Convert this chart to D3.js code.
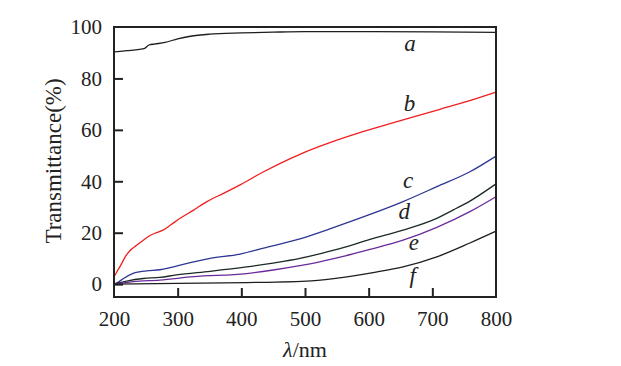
<!DOCTYPE html>
<html lang="en">
<head>
    <meta charset="UTF-8">
    <title>Transmittance</title>
    <script src="https://d3js.org/d3.v7.min.js"></script>
    <style>
        body { margin: 0; background: #fff; }
        text { font-family: "Liberation Serif", "DejaVu Serif", serif; fill: #222; }
    </style>
</head>
<body>
    <script>

        // wavelength / transmittance pairs, one array per sample
        var curve_a = [[200,90.3],[220,90.8],[240,91.3],[248,91.7],[255,93.0],[265,93.4],[280,94.0],[300,95.4],
                       [320,96.4],[350,97.2],[400,97.7],[450,98.0],[500,98.2],[600,98.2],[700,98.1],[800,97.9]];
        var curve_b = [[200,2.8],[205,5.0],[212,8.0],[218,10.8],[225,13.0],[235,15.0],[246,17.1],[257,19.0],
                       [267,20.0],[277,21.0],[290,23.2],[304,25.6],[325,28.8],[346,32.1],[372,35.3],[398,38.6],
                       [435,43.7],[492,50.5],[539,55.0],[586,58.9],[639,62.8],[712,68.0],[760,71.5],[800,74.7]];
        var curve_c = [[200,0],[208,1.0],[215,2.2],[230,4.2],[251,5.2],[272,5.6],[285,6.2],[304,7.4],[351,10.0],
                       [398,11.7],[435,14.0],[492,17.6],[539,21.5],[600,26.9],[654,32.1],[707,37.9],[759,43.7],[800,49.8]];
        var curve_d = [[200,0],[220,1.2],[246,2.2],[272,2.6],[298,3.6],[351,5.0],[408,6.7],[450,8.2],[492,10.0],
                       [526,12.0],[560,14.2],[602,17.4],[654,21.0],[707,25.6],[738,29.5],[759,32.3],[800,39.0]];
        var curve_e = [[200,0],[230,1.0],[272,1.6],[325,2.9],[408,4.1],[450,5.5],[492,7.2],[510,8.0],[560,10.8],
                       [602,13.5],[654,17.1],[707,22.1],[759,28.2],[800,34.0]];
        var curve_f = [[200,0],[300,0.3],[408,0.6],[510,1.3],[560,2.6],[607,4.5],[654,6.7],[707,10.6],[759,16.0],[800,20.6]];

        var curve_names = ['a', 'b', 'c', 'd', 'e', 'f'];
        var curve_colors = ['#1e1e1e', '#f01e1e', '#2e3594', '#1c2a24', '#6a2a9c', '#1e1e1e'];
        var curves = [curve_a, curve_b, curve_c, curve_d, curve_e, curve_f];
        // where the italic letters sit: [wavelength, transmittance] of the baseline centre
        var label_spots = [[665,90.5],[664,67.5],[662,37.5],[656,25.2],[671,13.2],[669,0.4]];

        var x_ticks = [200, 300, 400, 500, 600, 700, 800];
        var y_ticks = [0, 20, 40, 60, 80, 100];

        var width = 621, height = 366;
        // plot box (note: "top" is taken by window.top)
        var box_l = 114, box_t = 27, box_r = 496, box_b = 297;

        var svg = d3.select('body').append('svg')
            .attr('width', width)
            .attr('height', height);

        var x = d3.scaleLinear().domain([200, 800]).range([box_l, box_r]);
        var y = d3.scaleLinear().domain([-5, 100]).range([box_b, box_t]);

        // curves first, frame on top
        var line = d3.line()
            .x(function (d) { return x(d[0]); })
            .y(function (d) { return y(d[1]); })
            .curve(d3.curveMonotoneX);

        svg.selectAll('path.curve')
            .data(curves)
            .enter()
            .append('path')
            .attr('class', 'curve')
            .attr('d', line)
            .attr('fill', 'none')
            .attr('stroke', function (d, i) { return curve_colors[i]; })
            .attr('stroke-width', 1.3);

        svg.selectAll('text.name')
            .data(curve_names)
            .enter()
            .append('text')
            .attr('class', 'name')
            .attr('x', function (d, i) { return x(label_spots[i][0]); })
            .attr('y', function (d, i) { return y(label_spots[i][1]); })
            .attr('text-anchor', 'middle')
            .style('font-style', 'italic')
            .style('font-size', '23px')
            .text(function (d) { return d; });

        // axes with inward ticks
        var x_axis = d3.axisBottom(x).tickValues(x_ticks).tickSize(-9).tickPadding(14)
            .tickFormat(d3.format('d'));
        var y_axis = d3.axisLeft(y).tickValues(y_ticks).tickSize(-9).tickPadding(12)
            .tickFormat(d3.format('d'));

        var gx = svg.append('g').attr('transform', 'translate(0,' + box_b + ')').call(x_axis);
        var gy = svg.append('g').attr('transform', 'translate(' + box_l + ',0)').call(y_axis);

        [gx, gy].forEach(function (g) {
            g.select('.domain').remove();
            g.selectAll('line').attr('stroke', '#222').attr('stroke-width', 2);
            g.selectAll('text').style('font-size', '21px').attr('fill', '#222');
        });
        gx.selectAll('.tick').filter(function (d) { return d == 200 || d == 800; }).select('line').remove();
        gy.selectAll('.tick').filter(function (d) { return d == 100; }).select('line').remove();

        svg.append('rect')
            .attr('x', box_l)
            .attr('y', box_t)
            .attr('width', box_r - box_l)
            .attr('height', box_b - box_t)
            .attr('fill', 'none')
            .attr('stroke', '#222')
            .attr('stroke-width', 2);

        // axis titles
        svg.append('text')
            .attr('transform', 'translate(61,' + ((box_t + box_b) / 2 - 1) + ') rotate(-90)')
            .attr('text-anchor', 'middle')
            .style('font-size', '23px')
            .text('Transmittance(%)');

        var xt = svg.append('text')
            .attr('x', (box_l + box_r) / 2)
            .attr('y', 357)
            .attr('text-anchor', 'middle')
            .style('font-size', '22px');
        xt.append('tspan').style('font-style', 'italic').text('λ');
        xt.append('tspan').text('/nm');

    </script>
</body>
</html>
